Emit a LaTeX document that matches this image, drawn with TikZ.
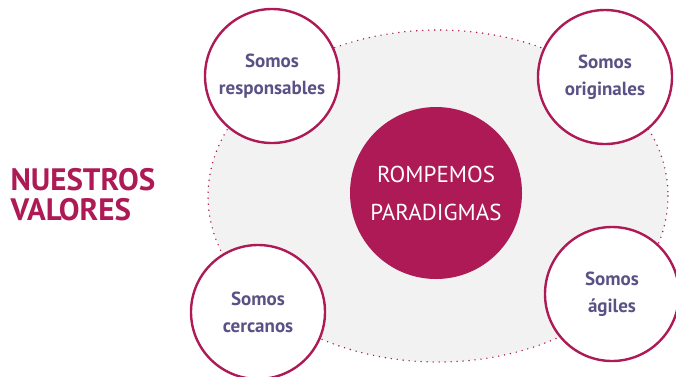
\documentclass[tikz,border=0pt]{standalone}
\usepackage{fontspec}
\usepackage{xcolor}
\setmainfont{PT Sans}

\definecolor{valmagenta}{HTML}{AD1A55}
\definecolor{valpurple}{HTML}{5A5185}
\definecolor{valgrey}{HTML}{F2F2F2}

\begin{document}
\begin{tikzpicture}[
  x=1pt, y=-1pt,
  value/.style={circle, draw=valmagenta, line width=2.4pt, fill=white, minimum size=134pt, inner sep=0pt, align=center, text=valpurple, font=\bfseries\fontsize{19}{27}\selectfont},
  core/.style={circle, fill=valmagenta, minimum size=172pt, inner sep=0pt, align=center, text=white, font=\fontsize{23}{38}\selectfont},
  title/.style={align=left, anchor=west, text=valmagenta, font=\bfseries\fontsize{31}{30}\selectfont}
]
\useasboundingbox (0,0) rectangle (676,376);

% background
\draw[valmagenta, fill=valgrey, line width=1.6pt, line cap=round, dash pattern=on 0pt off 6pt] (438,196) ellipse (230 and 166);

\node[title] (titulo) at (7,195) {NUESTROS\\VALORES};

\node[core] (centro) at (436,193) {ROMPEMOS\\PARADIGMAS};

\node[value] (responsables) at (272,76) {Somos\\responsables};
\node[value] (originales) at (605,77) {Somos\\originales};
\node[value] (cercanos) at (258,312) {Somos\\cercanos};
\node[value] (agiles) at (612,294) {Somos\\ágiles};

\end{tikzpicture}
\end{document}
